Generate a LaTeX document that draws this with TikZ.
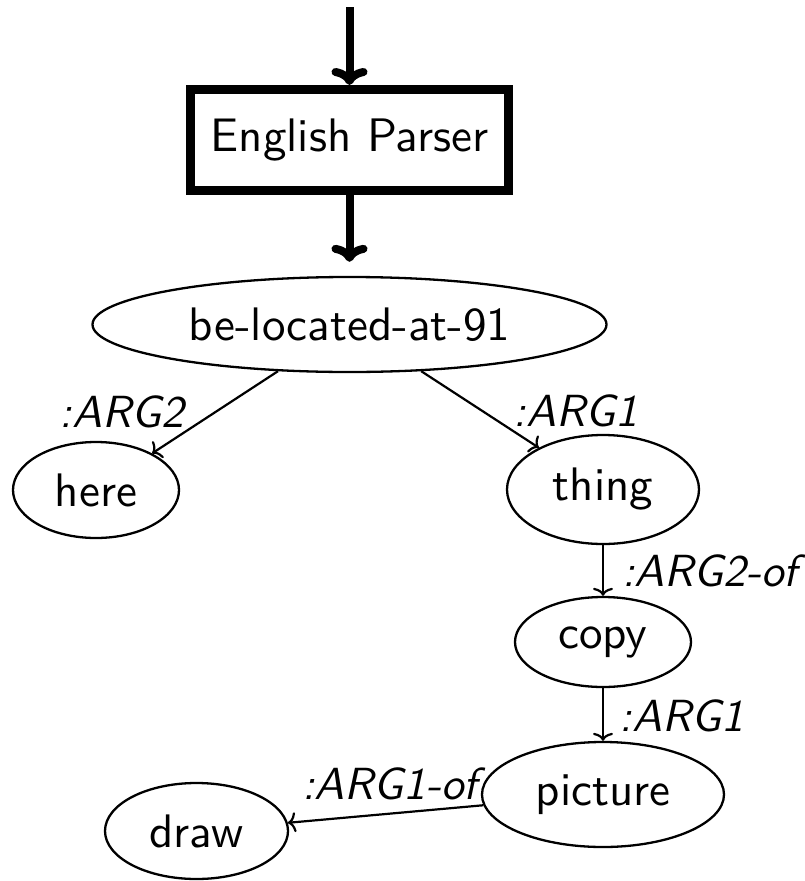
\documentclass[tikz,border=0pt]{standalone}
\usetikzlibrary{shapes.geometric,arrows.meta}
% text is set at 10pt and enlarged, so the 10pt design of Latin Modern Sans is used
\newcommand{\cptext}[1]{\scalebox{4.7}{\fontsize{10}{12}\selectfont\sffamily #1}}
\newcommand{\reltext}[1]{\scalebox{4.5}{\fontsize{10}{12}\selectfont\sffamily\itshape #1}}
\begin{document}
\begin{tikzpicture}[x=1pt,y=-1pt,
  concept/.style={draw,ellipse,line width=2.3pt,inner sep=0pt},
  rel/.style={inner sep=0pt,anchor=base},
  argline/.style={line width=2.2pt,-{To[length=8pt,width=20pt]}},
  feed/.style={line width=8pt,-{To[length=17pt,width=36pt,round]}},
]
\useasboundingbox (0,0) rectangle (805,881);

% parser stage
\coordinate (input) at (349.5,7);
\node[draw,line width=9pt,minimum width=318pt,minimum height=101pt,inner sep=0pt]
  (parser) at (349.5,140) {\cptext{English Parser}};

% AMR concepts
\node[concept,minimum width=514pt,minimum height=95pt] (amr) at (349.5,324.5) {\cptext{be-located-at-91}};
\node[concept,minimum width=166pt,minimum height=96pt] (here) at (96,490) {\cptext{here}};
\node[concept,minimum width=192pt,minimum height=109pt] (thing) at (603,489.5) {\cptext{thing}};
\node[concept,minimum width=176pt,minimum height=90pt] (copy) at (603,642) {\cptext{copy}};
\node[concept,minimum width=242pt,minimum height=105pt] (picture) at (603,794.5) {\cptext{picture}};
\node[concept,minimum width=183pt,minimum height=96pt] (draw) at (196.5,831) {\cptext{draw}};

% parser arrows
\draw[feed] (input) -- (parser.north);
\draw[feed,shorten >=14pt] (parser.south) -- (amr.north);

% relations
\draw[argline] (amr) -- (here);
\draw[argline] (amr) -- (thing);
\draw[argline] (thing) -- (copy);
\draw[argline] (copy) -- (picture);
\draw[argline] (picture) -- (draw);

% relation labels
\node[rel] (l-here) at (122,427) {\reltext{:ARG2}};
\node[rel] (l-thing) at (576,426) {\reltext{:ARG1}};
\node[rel] (l-copy) at (710,586) {\reltext{:ARG2-of}};
\node[rel] (l-picture) at (682,731) {\reltext{:ARG1}};
\node[rel] (l-draw) at (390,799) {\reltext{:ARG1-of}};
\end{tikzpicture}
\end{document}
